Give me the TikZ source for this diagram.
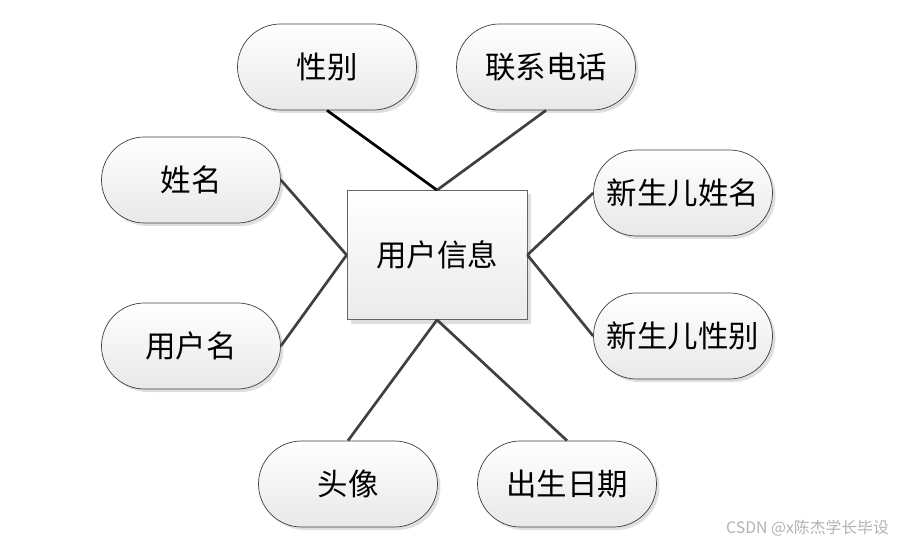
\documentclass[tikz,border=0pt]{standalone}
\usepackage{fontspec}
\newfontfamily\cjk{Noto Sans CJK SC}
\usetikzlibrary{shadows}
\definecolor{linegray}{HTML}{404040}
\tikzset{
  attr/.style={draw=black!75, line width=0.6pt, rounded corners=1.29cm,
               minimum width=5.37cm, minimum height=2.58cm, inner sep=0pt,
               top color=white, bottom color=black!9,
               drop shadow={opacity=0.25, shadow xshift=0.09cm, shadow yshift=-0.09cm},
               font=\cjk\fontsize{26}{30}\selectfont},
  entity/.style={draw=black!60, line width=0.6pt,
                 minimum width=5.4cm, minimum height=3.87cm, inner sep=0pt,
                 top color=white, bottom color=black!8,
                 drop shadow={opacity=0.25, shadow xshift=0.12cm, shadow yshift=-0.12cm},
                 font=\cjk\fontsize{26}{30}\selectfont},
  link/.style={draw=linegray, line width=2.3pt},
}

\begin{document}
\begin{tikzpicture}[x=0.03cm, y=-0.03cm]
\useasboundingbox (0,0) rectangle (897,545);
\node[entity] (user) at (437,255) {用户信息};
% attributes
\node[attr] (gender) at (327,67) {性别};
\node[attr] (phone) at (546,67) {联系电话};
\node[attr] (name) at (191,180) {姓名};
\node[attr] (uname) at (191,346) {用户名};
\node[attr] (bname) at (683,193) {新生儿姓名};
\node[attr] (bgender) at (683,336) {新生儿性别};
\node[attr] (avatar) at (348,484) {头像};
\node[attr] (birth) at (567,484) {出生日期};
% links
\draw[link, draw=black] (gender.south) -- (user.north);
\draw[link] (phone.south) -- (user.north);
\draw[link] (name.east) -- (user.west);
\draw[link] (uname.east) -- (user.west);
\draw[link] (bname.west) -- (user.east);
\draw[link] (bgender.west) -- (user.east);
\draw[link] (avatar.north) -- (user.south);
\draw[link] (birth.north) -- (user.south);
\node[font=\cjk\fontsize{13.5}{15}\selectfont, text=black!30, anchor=east] (mark) at (893,528) {CSDN @x陈杰学长毕设};
\end{tikzpicture}
\end{document}
